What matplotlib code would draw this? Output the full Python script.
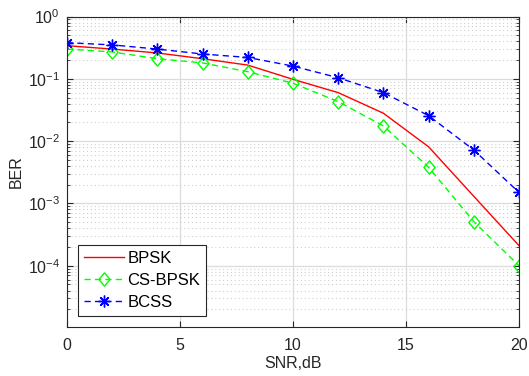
import matplotlib
matplotlib.use("Agg")
import matplotlib.pyplot as plt
from matplotlib.ticker import LogLocator, FixedLocator, NullFormatter
from matplotlib.path import Path

plt.rcParams['font.family'] = ['Liberation Sans', 'DejaVu Sans']
plt.rcParams['mathtext.fontset'] = 'custom'
plt.rcParams['mathtext.rm'] = 'Liberation Sans'
plt.rcParams['mathtext.it'] = 'Liberation Sans:italic'
plt.rcParams['mathtext.bf'] = 'Liberation Sans:bold'

snr = [0, 2, 4, 6, 8, 10, 12, 14, 16, 18, 20]
ber_bpsk = [0.34, 0.30, 0.26, 0.21, 0.166, 0.098, 0.06, 0.028, 0.0081, 0.0013, 0.00021]
ber_csbpsk = [0.30, 0.27, 0.21, 0.18, 0.13, 0.085, 0.043, 0.0175, 0.0038, 0.00051, 0.0001]
ber_bcss = [0.38, 0.35, 0.30, 0.25, 0.22, 0.16, 0.104, 0.06, 0.0256, 0.0072, 0.0015]
labels = ['BPSK', 'CS-BPSK', 'BCSS']
xticks = [0, 5, 10, 15, 20]
yticks = [1e-4, 1e-3, 1e-2, 1e-1, 1e0]

diamond = Path([(0, 1), (0.85, 0), (0, -1), (-0.85, 0), (0, 1)],
               [Path.MOVETO, Path.LINETO, Path.LINETO, Path.LINETO, Path.CLOSEPOLY])

fig = plt.figure(figsize=(5.29, 3.76), dpi=100)
ax = fig.add_axes([67/529, 1-326.7/376, (519-67)/529, (326.7-16.5)/376])

ax.semilogy(snr, ber_bpsk, color='#FF0000', lw=1.0, label=labels[0])
ax.semilogy(snr, ber_csbpsk, color='#00FF00', lw=1.0, dashes=(4.5, 3),
            marker=diamond, markersize=9.5, markerfacecolor='none', markeredgecolor='#00FF00',
            markeredgewidth=1.0, label=labels[1])
ax.semilogy(snr, ber_bcss, color='#0000FF', lw=1.0, dashes=(4.5, 3),
            marker=(8, 2, 0), markersize=8.5, markeredgecolor='#0000FF',
            markeredgewidth=1.0, label=labels[2])

ax.set_xlim(0, 20)
ax.set_ylim(1.05e-5, 1)
ax.set_xticks(xticks)
ax.yaxis.set_major_locator(FixedLocator(yticks))
ax.yaxis.set_minor_locator(LogLocator(base=10, subs=range(2, 10), numticks=20))
ax.yaxis.set_minor_formatter(NullFormatter())

ax.grid(True, which='major', color='#DCDCDC', lw=0.9, linestyle='-')
ax.grid(True, which='minor', axis='y', color='#CFCFCF', lw=0.8, linestyle=(0, (1, 2.5)))
ax.set_axisbelow(True)

ax.tick_params(which='both', direction='in', top=True, right=True, labelsize=11.5, colors='#262626')
ax.tick_params(which='major', length=4)
ax.tick_params(which='minor', length=2.2)
ax.tick_params(axis='x', pad=8)
ax.tick_params(axis='y', pad=5)
for s in ax.spines.values():
    s.set_color('#262626')
    s.set_linewidth(0.8)

ax.set_xlabel('SNR,dB', fontsize=11.5, color='#262626', labelpad=2)
ax.set_ylabel('BER', fontsize=11.5, color='#262626', labelpad=3)

leg = ax.legend(loc='lower left', bbox_to_anchor=(0.0243, 0.0345), borderaxespad=0,
                fancybox=False, edgecolor='#262626', fontsize=12, handlelength=2.4,
                handletextpad=0.2, borderpad=0.35, labelspacing=0.42, framealpha=1)
leg.get_frame().set_linewidth(0.8)

fig.savefig('out.png', dpi=100)
